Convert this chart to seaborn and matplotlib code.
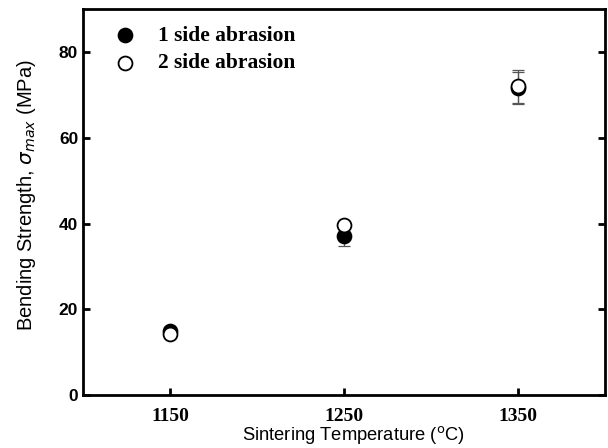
import matplotlib
matplotlib.use("Agg")
import matplotlib.pyplot as plt
import pandas as pd
import seaborn as sns

# data
temps = [1150, 1250, 1350]
one_side = [15.0, 37.0, 71.6]
one_side_err = [0.6, 2.2, 3.8]
two_side = [14.3, 39.6, 72.0]
two_side_err = [0.8, 0.6, 3.8]
series_names = ["1 side abrasion", "2 side abrasion"]
x_ticks = [1150, 1250, 1350]
y_ticks = [0, 20, 40, 60, 80]

df = pd.DataFrame({
    "temp": temps * 2,
    "strength": one_side + two_side,
    "err": one_side_err + two_side_err,
    "series": [series_names[0]] * 3 + [series_names[1]] * 3,
})

sns.set_theme(style="ticks")
plt.rcParams.update({
    "axes.linewidth": 2.0,
    "axes.edgecolor": "black",
    "xtick.color": "black",
    "ytick.color": "black",
    "text.color": "black",
    "axes.labelcolor": "black",
    "mathtext.fontset": "dejavusans",
})

fig = plt.figure(figsize=(6.08, 4.48), dpi=100)
ax = fig.add_axes([0.1365, 0.118, 0.8585, 0.862])

# error bars first, markers over them
for name in series_names:
    sub = df[df["series"] == name]
    ax.errorbar(sub["temp"], sub["strength"], yerr=sub["err"], fmt="none",
                ecolor="#555555", elinewidth=0.9, capsize=4, capthick=0.9, zorder=2)

for name, fill in zip(series_names, ["black", "white"]):
    sub = df[df["series"] == name]
    sns.scatterplot(data=sub, x="temp", y="strength", ax=ax, s=100,
                    color=fill, edgecolor="black", linewidth=1.3,
                    label=name, zorder=3)

ax.set_xlim(1100, 1400)
ax.set_ylim(0, 90)
ax.set_xticks(x_ticks)
ax.set_yticks(y_ticks)
ax.tick_params(axis="both", direction="in", length=5, width=2)
ax.tick_params(axis="y", right=True)
ax.tick_params(axis="x", pad=9)
for lab in ax.get_xticklabels():
    lab.set_fontfamily("Liberation Serif")
    lab.set_fontweight("bold")
    lab.set_fontsize(14)
for lab in ax.get_yticklabels():
    lab.set_fontfamily("Liberation Sans")
    lab.set_fontweight("bold")
    lab.set_fontsize(12.5)

ax.set_xlabel(r"Sintering Temperature ($^{\rm o}$C)", fontsize=13.2,
              fontfamily="Liberation Sans")
ax.xaxis.set_label_coords(0.519, -0.076)
ax.set_ylabel(r"Bending Strength, $\sigma_{max}$ (MPa)", fontsize=14.5,
              fontfamily="Liberation Sans")
ax.yaxis.set_label_coords(-0.086, 0.518)
for s in ax.spines.values():
    s.set_visible(True)
    s.set_linewidth(2)

ax.legend(loc="upper left", frameon=False, bbox_to_anchor=(0.044, 0.979),
          prop={"family": "Liberation Serif", "weight": "bold", "size": 15.5},
          handlelength=1.0, handletextpad=1.0, labelspacing=0.35,
          borderaxespad=0.0)

fig.savefig("out.png", dpi=100)
